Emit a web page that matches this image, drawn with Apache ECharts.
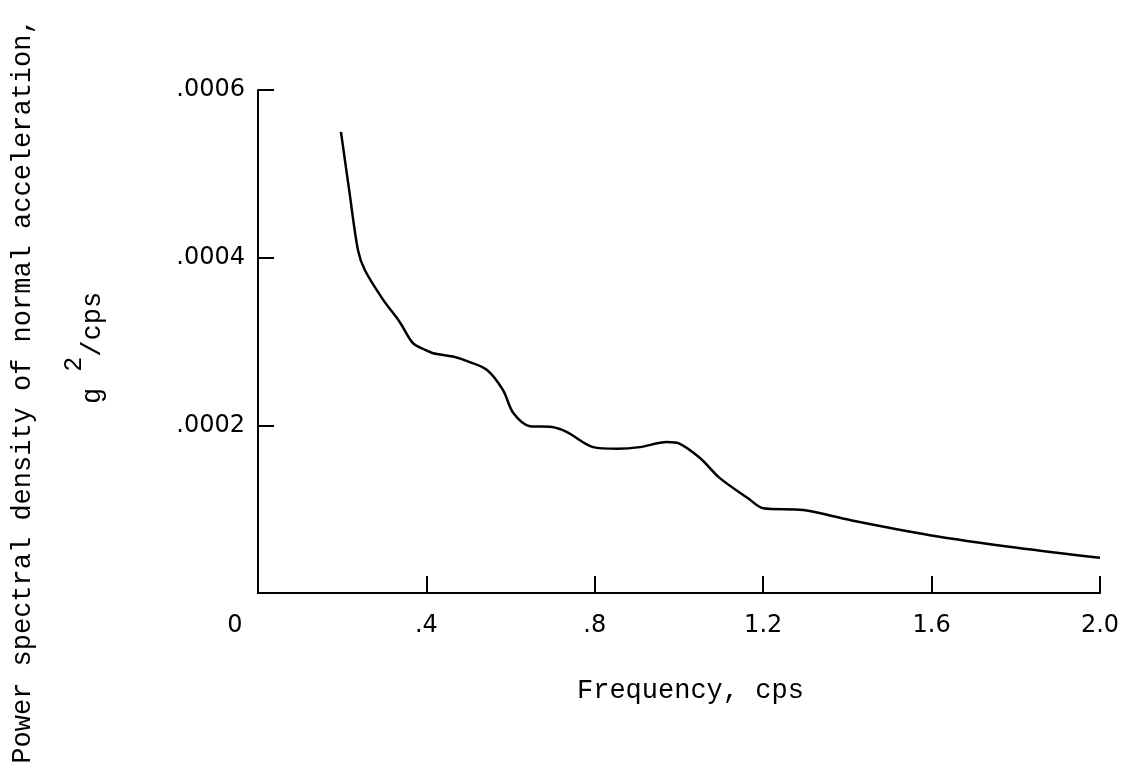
<!DOCTYPE html>
<html>
<head>
<meta charset="utf-8">
<script src="https://cdn.jsdelivr.net/npm/echarts@6/dist/echarts.min.js"></script>
<style>
html,body{margin:0;padding:0;background:#fff;}
#chart{width:1134px;height:775px;}
</style>
</head>
<body>
<div id="chart"></div>
<script>
// Frequency, cps
var freq = [0.197, 0.217, 0.2375, 0.254, 0.297, 0.337, 0.368, 0.397, 0.416, 0.463, 0.50, 0.544, 0.582, 0.606, 0.646, 0.698, 0.734, 0.796, 0.853, 0.907, 0.971, 1.002, 1.050, 1.097, 1.164, 1.200, 1.295, 1.406, 1.596, 1.803, 2.0];
// Power spectral density, g^2/cps
var psd = [0.000550, 0.000479, 0.000409, 0.000385, 0.000350, 0.000323, 0.000298, 0.000290, 0.000286, 0.000282, 0.000276, 0.000266, 0.000242, 0.000215, 0.000199, 0.000198, 0.000192, 0.000174, 0.000172, 0.000174, 0.000180, 0.000178, 0.000161, 0.000137, 0.000113, 0.000101, 0.000099, 0.000087, 0.000069, 0.000054, 0.000042];
var xTickLabels = {'0': '0', '0.4': '.4', '0.8': '.8', '1.2': '1.2', '1.6': '1.6', '2': '2.0'};
var yTickLabels = {'0.0002': '.0002', '0.0004': '.0004', '0.0006': '.0006'};
var xTitle = 'Frequency, cps';
var yTitle1 = 'Power spectral density of normal acceleration,';

var data = freq.map(function (f, i) { return [f, psd[i]]; });
var chart = echarts.init(document.getElementById('chart'));
var mono = '"Liberation Mono", "DejaVu Sans Mono", monospace';
var sans = '"DejaVu Sans", sans-serif';
chart.setOption({
  backgroundColor: '#ffffff',
  animation: false,
  grid: {left: 258, right: 34, top: 90, bottom: 182, containLabel: false},
  xAxis: {
    type: 'value', min: 0, max: 2.0, interval: 0.4,
    axisLine: {lineStyle: {color: '#000', width: 2}},
    axisTick: {inside: true, length: 17, lineStyle: {color: '#000', width: 2}},
    splitLine: {show: false},
    axisLabel: {
      margin: 21, color: '#000', fontFamily: sans, fontSize: 24,
      formatter: function (v) {
        var k = String(+v.toFixed(2));
        if (k === '0') return '{z|0}';
        return xTickLabels[k] || '';
      },
      rich: {z: {fontFamily: sans, fontSize: 24, color: '#000', padding: [0, 46, 0, 0]}}
    }
  },
  yAxis: {
    type: 'value', min: 0, max: 0.0006, interval: 0.0002,
    axisLine: {lineStyle: {color: '#000', width: 2}},
    axisTick: {inside: true, length: 16, lineStyle: {color: '#000', width: 2}},
    splitLine: {show: false},
    axisLabel: {
      margin: 13, color: '#000', fontFamily: sans, fontSize: 24,
      formatter: function (v) {
        var k = String(+v.toFixed(6));
        return yTickLabels[k] || '';
      }
    }
  },
  series: [{
    type: 'line', data: data, smooth: 0.3,
    showSymbol: false, lineStyle: {color: '#000', width: 2.5}
  }],
  graphic: [
    {type: 'text', x: 577, y: 691, style: {text: xTitle, font: '27px ' + mono, fill: '#000', align: 'left', verticalAlign: 'middle'}},
    {type: 'text', x: 23, y: 391, rotation: Math.PI / 2, style: {text: yTitle1, font: '27px ' + mono, fill: '#000', align: 'center', verticalAlign: 'middle'}},
    {type: 'text', x: 84, y: 348, rotation: Math.PI / 2, style: {
      text: '{n|g }{s|2}{n|/cps}', align: 'center', verticalAlign: 'middle', fill: '#000',
      rich: {
        n: {fontFamily: mono, fontSize: 27, fill: '#000', lineHeight: 44, verticalAlign: 'bottom'},
        s: {fontFamily: mono, fontSize: 25, fill: '#000', lineHeight: 44, verticalAlign: 'top'}
      }
    }}
  ]
});
</script>
</body>
</html>
